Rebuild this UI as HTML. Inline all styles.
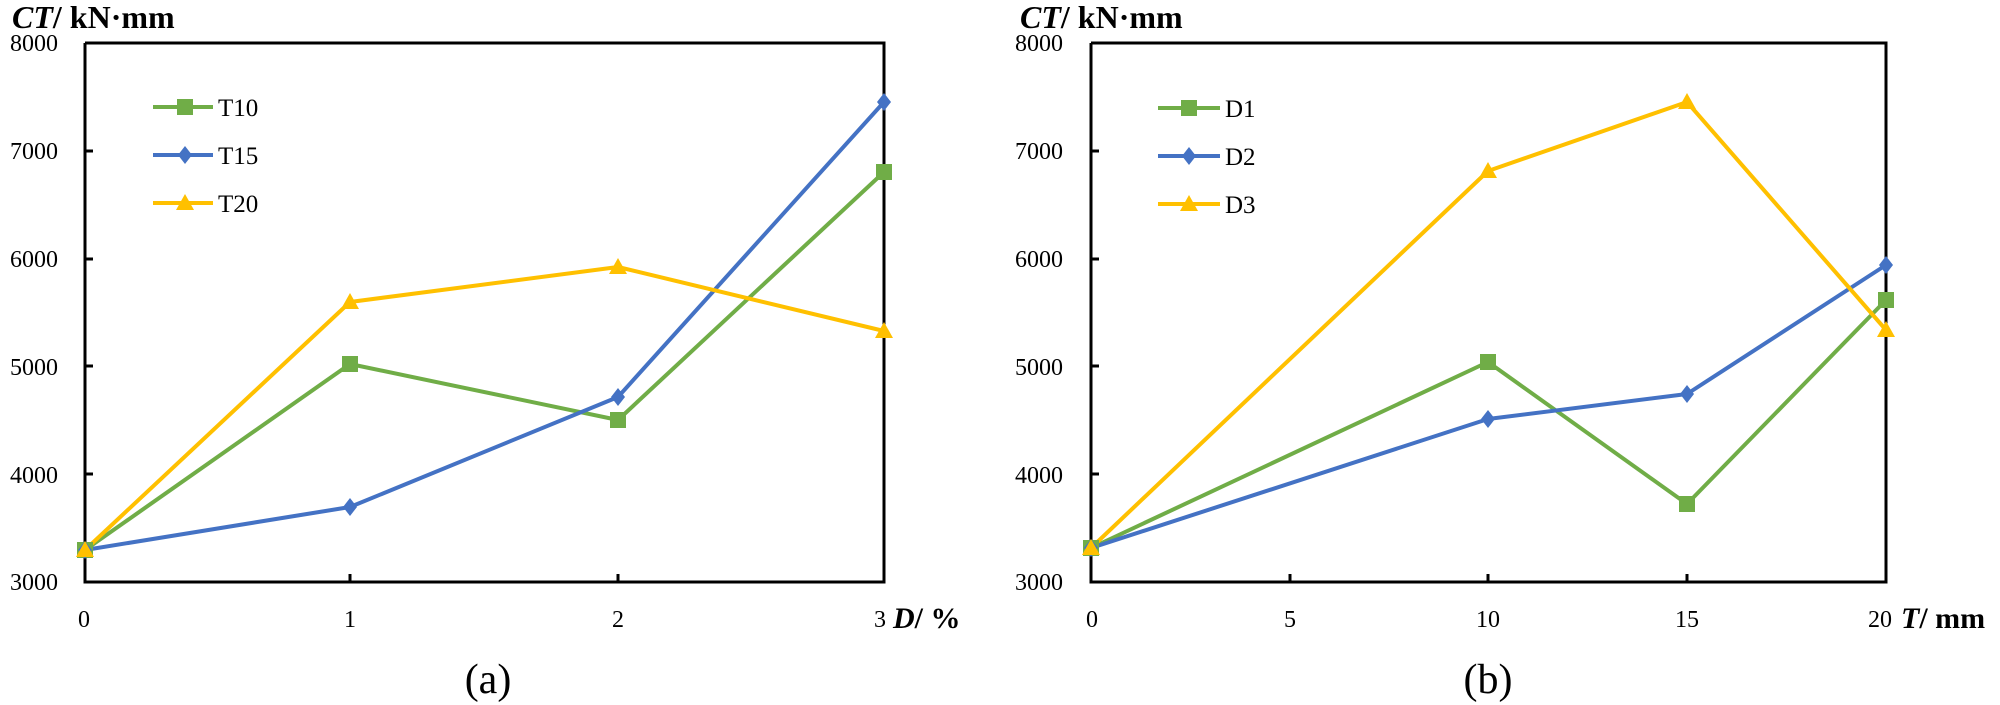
<!DOCTYPE html>
<html><head><meta charset="utf-8"><style>
html,body{margin:0;padding:0;background:#fff;}
svg{display:block;}
text{font-family:"Liberation Serif",serif;fill:#000;}
</style></head><body>
<svg width="2000" height="705" viewBox="0 0 2000 705" xmlns="http://www.w3.org/2000/svg">
<defs>
<g id="sq"><rect x="-8" y="-8" width="16" height="16" fill="#70AD47"/></g>
<g id="di"><polygon points="0,-9 7,0 0,9 -7,0" fill="#4472C4"/></g>
<g id="tr"><polygon points="0,-9 9,7 -9,7" fill="#FFC000"/></g>
</defs>
<!-- Left chart -->
<text x="12" y="28" font-size="32" font-weight="bold"><tspan font-style="italic">CT</tspan>/ kN·mm</text>
<g font-size="24" text-anchor="end">
<text x="58" y="51">8000</text><text x="58" y="159">7000</text><text x="58" y="267">6000</text>
<text x="58" y="375">5000</text><text x="58" y="483">4000</text><text x="58" y="590">3000</text>
</g>
<g fill="none" stroke="#000" stroke-width="3">
<polyline points="85,43 884,43 884,582 85,582 85,43"/>
<path d="M85,151h8M85,259h8M85,366h8M85,474h8M350,582v-8M618,582v-8"/>
</g>
<g font-size="24" text-anchor="middle">
<text x="84" y="627">0</text><text x="350" y="627">1</text><text x="618" y="627">2</text><text x="880" y="627">3</text>
</g>
<text x="893" y="628" font-size="30" font-weight="bold"><tspan font-style="italic">D</tspan>/ %</text>
<text x="488" y="693" font-size="42" text-anchor="middle">(a)</text>
<g stroke-width="4" fill="none">
<line x1="153" y1="107" x2="213" y2="107" stroke="#70AD47"/>
<line x1="153" y1="155" x2="213" y2="155" stroke="#4472C4"/>
<line x1="153" y1="203" x2="213" y2="203" stroke="#FFC000"/>
</g>
<use href="#sq" x="185" y="107"/><use href="#di" x="185" y="155"/><use href="#tr" x="185" y="203"/>
<g font-size="25"><text x="218" y="116">T10</text><text x="218" y="164">T15</text><text x="218" y="212">T20</text></g>
<g fill="none" stroke-width="4" stroke-linejoin="round">
<polyline stroke="#70AD47" points="85,550 350,364 618,420 884,172"/>
<polyline stroke="#4472C4" points="85,550 350,507 618,397 884,102"/>
<polyline stroke="#FFC000" points="85,550 350,302 618,267 884,331"/>
</g>
<use href="#sq" x="85" y="550"/><use href="#sq" x="350" y="364"/><use href="#sq" x="618" y="420"/><use href="#sq" x="884" y="172"/>
<use href="#di" x="85" y="550"/><use href="#di" x="350" y="507"/><use href="#di" x="618" y="397"/><use href="#di" x="884" y="102"/>
<use href="#tr" x="85" y="550"/><use href="#tr" x="350" y="302"/><use href="#tr" x="618" y="267"/><use href="#tr" x="884" y="331"/>

<!-- Right chart -->
<text x="1020" y="28" font-size="32" font-weight="bold"><tspan font-style="italic">CT</tspan>/ kN·mm</text>
<g font-size="24" text-anchor="end">
<text x="1063" y="51">8000</text><text x="1063" y="159">7000</text><text x="1063" y="267">6000</text>
<text x="1063" y="375">5000</text><text x="1063" y="483">4000</text><text x="1063" y="590">3000</text>
</g>
<g fill="none" stroke="#000" stroke-width="3">
<polyline points="1091,43 1886,43 1886,582 1091,582 1091,43"/>
<path d="M1091,151h8M1091,259h8M1091,366h8M1091,474h8M1290,582v-8M1488,582v-8M1687,582v-8"/>
</g>
<g font-size="24" text-anchor="middle">
<text x="1092" y="627">0</text><text x="1290" y="627">5</text><text x="1488" y="627">10</text><text x="1687" y="627">15</text><text x="1880" y="627">20</text>
</g>
<text x="1901" y="628" font-size="30" font-weight="bold"><tspan font-style="italic">T</tspan>/ mm</text>
<text x="1488" y="693" font-size="42" text-anchor="middle">(b)</text>
<g stroke-width="4" fill="none">
<line x1="1158" y1="108" x2="1220" y2="108" stroke="#70AD47"/>
<line x1="1158" y1="156" x2="1220" y2="156" stroke="#4472C4"/>
<line x1="1158" y1="204" x2="1220" y2="204" stroke="#FFC000"/>
</g>
<use href="#sq" x="1189" y="108"/><use href="#di" x="1189" y="156"/><use href="#tr" x="1189" y="204"/>
<g font-size="25"><text x="1225" y="117">D1</text><text x="1225" y="165">D2</text><text x="1225" y="213">D3</text></g>
<g fill="none" stroke-width="4" stroke-linejoin="round">
<polyline stroke="#70AD47" points="1091,548 1488,362 1687,504 1886,300"/>
<polyline stroke="#4472C4" points="1091,548 1488,419 1687,394 1886,265"/>
<polyline stroke="#FFC000" points="1091,548 1488,171 1687,102 1886,330"/>
</g>
<use href="#sq" x="1091" y="548"/><use href="#sq" x="1488" y="362"/><use href="#sq" x="1687" y="504"/><use href="#sq" x="1886" y="300"/>
<use href="#di" x="1091" y="548"/><use href="#di" x="1488" y="419"/><use href="#di" x="1687" y="394"/><use href="#di" x="1886" y="265"/>
<use href="#tr" x="1091" y="548"/><use href="#tr" x="1488" y="171"/><use href="#tr" x="1687" y="102"/><use href="#tr" x="1886" y="330"/>
</svg>
</body></html>
